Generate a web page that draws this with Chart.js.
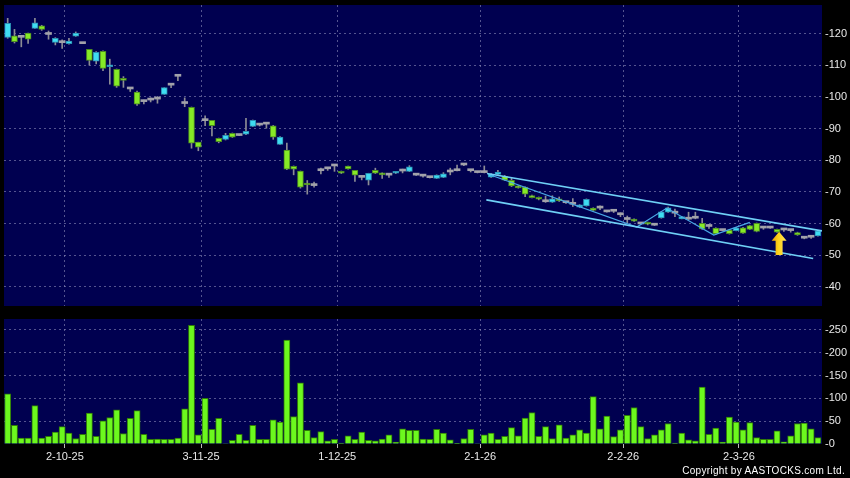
<!DOCTYPE html>
<html lang="en">
<head>
<meta charset="UTF-8">
<title>Price and volume</title>
<script src="https://cdn.jsdelivr.net/npm/chart.js"></script>
<style>
  body { margin: 0; background: #000; width: 850px; height: 478px; overflow: hidden; position: relative; }
  #priceChart { position: absolute; left: 0; top: 0; }
  #volChart { position: absolute; left: 0; top: 310px; }
  #copy { position: absolute; right: 5px; top: 465px; color: #fff; font: 10px 'Liberation Sans', Arial, sans-serif; letter-spacing: 0.3px; }
</style>
</head>
<body>
<canvas id="priceChart" width="850" height="310"></canvas>
<canvas id="volChart" width="850" height="168"></canvas>
<div id="copy">Copyright by AASTOCKS.com Ltd.</div>

<script>
// daily bars, oldest first (one entry per trading day)
const opens = [
  118.8, 119.3, 118.8, 120.1, 121.6, 122.4, 119.7, 117.2, 117.1, 116.8,
  119.2, 116.8, 115.0, 111.3, 114.4, 109.5, 108.7, 105.8, 102.5, 101.5,
  98.5, 99.0, 99.3, 100.8, 103.7, 106.5, 97.9, 96.7, 85.7, 92.5,
  92.6, 86.9, 86.6, 88.5, 87.8, 88.2, 90.7, 91.1, 91.4, 90.9,
  85.0, 83.2, 78.1, 76.6, 72.5, 72.0, 76.7, 77.3, 78.2, 76.5,
  78.2, 76.8, 74.6, 73.7, 76.8, 75.9, 75.3, 75.9, 76.6, 76.5,
  75.3, 75.0, 74.5, 74.3, 74.6, 76.3, 76.7, 78.5, 76.7, 76.1,
  76.1, 74.7, 75.5, 74.9, 73.7, 71.9, 71.5, 68.8, 68.3, 66.9,
  66.8, 67.7, 66.6, 66.1, 65.2, 65.6, 64.9, 64.9, 63.7, 63.9,
  62.8, 61.3, 61.4, 59.9, 60.4, 59.5, 61.8, 63.6, 63.3, 61.5,
  61.4, 61.7, 60.1, 59.1, 58.6, 57.8, 58.0, 57.8, 58.7, 59.4,
  60.1, 58.6, 58.6, 58.2, 58.0, 57.8, 57.2, 55.4, 55.7, 56.1
];
const highs = [
  124.8, 121.3, 118.9, 120.1, 124.8, 122.6, 120.8, 118.7, 118.0, 118.5,
  120.5, 116.8, 115.0, 114.3, 114.5, 111.9, 108.8, 106.4, 103.0, 101.8,
  99.0, 99.7, 100.1, 102.9, 104.3, 106.5, 99.7, 96.8, 85.7, 94.0,
  92.6, 87.0, 88.5, 88.6, 87.8, 93.2, 92.7, 91.6, 91.5, 91.0,
  87.5, 85.4, 78.2, 76.6, 73.6, 73.1, 77.5, 77.7, 78.2, 76.6,
  78.2, 76.8, 75.0, 75.9, 77.5, 76.0, 75.8, 76.5, 77.2, 78.3,
  75.4, 75.4, 74.6, 75.4, 76.1, 77.5, 78.5, 78.9, 77.0, 76.2,
  78.2, 75.8, 76.8, 75.2, 74.3, 72.0, 71.6, 69.0, 68.4, 68.7,
  68.8, 68.4, 66.8, 67.9, 66.0, 67.8, 65.0, 65.6, 63.8, 64.0,
  63.4, 62.4, 61.5, 60.0, 60.5, 59.6, 63.8, 65.2, 64.6, 62.3,
  63.6, 63.6, 61.7, 59.8, 58.7, 57.9, 58.1, 58.8, 58.8, 59.5,
  60.2, 59.0, 58.7, 58.3, 58.5, 58.2, 57.3, 55.6, 56.2, 57.9
];
const lows = [
  118.5, 117.0, 115.8, 116.9, 121.6, 121.0, 118.2, 116.4, 115.3, 116.6,
  119.1, 116.8, 110.0, 110.4, 108.3, 104.0, 103.0, 103.0, 101.7, 97.3,
  97.8, 98.4, 98.0, 100.8, 102.9, 105.1, 96.9, 83.8, 83.0, 90.9,
  87.7, 85.5, 86.4, 87.2, 87.8, 88.1, 90.6, 90.8, 90.1, 86.6,
  85.0, 77.0, 75.4, 71.2, 69.3, 71.5, 75.7, 76.8, 76.5, 75.8,
  77.2, 73.3, 73.8, 72.2, 75.8, 74.3, 74.6, 75.8, 76.0, 76.4,
  75.2, 74.7, 74.4, 74.2, 74.5, 75.4, 76.6, 78.3, 76.3, 76.0,
  76.0, 74.6, 75.4, 73.6, 71.7, 71.2, 68.5, 68.1, 67.5, 66.7,
  66.7, 67.0, 66.4, 65.4, 65.1, 65.5, 64.1, 64.4, 63.6, 63.5,
  62.2, 60.2, 60.7, 59.8, 59.6, 59.4, 61.7, 63.5, 62.2, 61.5,
  61.3, 61.5, 58.2, 58.5, 56.6, 57.7, 56.7, 57.7, 56.9, 58.1,
  57.4, 58.2, 58.5, 57.2, 57.5, 57.3, 56.3, 55.2, 55.3, 56.0
];
const closes = [
  123.2, 117.4, 118.8, 118.2, 123.4, 121.3, 119.7, 118.5, 117.1, 117.6,
  120.1, 116.8, 111.5, 114.1, 109.0, 109.9, 103.4, 105.2, 102.5, 97.7,
  98.5, 99.0, 99.3, 102.9, 103.7, 106.5, 97.9, 85.4, 84.1, 92.5,
  90.9, 85.9, 87.9, 87.3, 87.8, 89.1, 92.6, 91.1, 91.4, 87.3,
  87.3, 77.2, 77.2, 71.5, 72.2, 72.0, 76.7, 77.3, 78.2, 75.9,
  77.3, 75.3, 74.6, 75.9, 75.9, 75.4, 75.3, 76.5, 76.6, 77.9,
  75.3, 75.0, 74.5, 75.3, 75.7, 76.3, 76.7, 78.5, 76.7, 76.1,
  76.1, 75.6, 76.3, 73.7, 71.9, 71.3, 69.3, 68.2, 67.7, 66.9,
  67.8, 67.2, 66.6, 66.1, 65.9, 67.7, 64.2, 64.9, 63.7, 63.9,
  62.8, 61.3, 60.8, 59.9, 59.8, 59.5, 63.7, 65.0, 63.3, 62.2,
  61.4, 61.7, 58.3, 59.1, 56.8, 57.8, 56.8, 58.7, 57.0, 58.2,
  57.5, 58.6, 58.6, 57.3, 58.0, 57.8, 56.4, 55.4, 55.7, 57.7
];
const volumes = [
  110, 41, 13, 13, 84, 13, 17, 26, 38, 24,
  12, 21, 68, 17, 51, 58, 75, 23, 56, 73,
  21, 10, 11, 10, 10, 13, 77, 260, 20, 100,
  32, 56, 1, 8, 21, 8, 41, 10, 10, 53,
  48, 228, 60, 134, 30, 14, 27, 7, 10, 2,
  18, 10, 26, 8, 7, 11, 20, 4, 33, 30,
  30, 11, 10, 32, 24, 9, 0.5, 12, 32, 1,
  20, 24, 10, 17, 36, 18, 57, 69, 17, 38,
  12, 42, 13, 20, 31, 24, 104, 33, 61, 16,
  31, 63, 80, 38, 12, 20, 31, 45, 2, 24,
  9, 7, 125, 21, 35, 4, 59, 48, 31, 47,
  14, 10, 10, 29, 5, 18, 45, 46, 33, 14
];

// date labels and the bar each one sits on
const tickLabels = ['2-10-25', '3-11-25', '1-12-25', '2-1-26', '2-2-26', '2-3-26'];
const tickBars = [8, 28, 48, 69, 90, 107];
const priceTicks = [40, 50, 60, 70, 80, 90, 100, 110, 120];
const volumeTicks = [0, 50, 100, 150, 200, 250];

// drawn trend channel, zigzag and marker: [bar, price]
const upperLine = [[70.4, 75.8], [119.6, 57.7]];
const lowerLine = [[70.3, 67.5], [118.3, 49.0]];
const zigzag = [[70.6, 75.6], [92.4, 58.9], [96.8, 64.9], [103.7, 56.4], [109.0, 60.4]];
const arrowMark = [113.3, 57.4, 50.1]; // bar, tip price, tail price

const NAVY = '#000050';
const GRID = 'rgba(140,140,185,0.6)';
const CYAN = '#3fdcf2', CYAN_EDGE = '#2b8fb2';
const GREEN = '#86ea26', GREEN_EDGE = '#4b8a22';
const FLAT = '#a2a2aa', WICK = '#8c8c94';
const VOL = '#6cf81e', VOL_EDGE = '#2f7a08';
const FONT = { family: "'Liberation Sans', Arial, sans-serif", size: 11 };

const xMin = -0.54, xMax = 119.6;

function bodyColor(i) {
  if (closes[i] > opens[i]) return CYAN;
  if (closes[i] < opens[i]) return GREEN;
  return FLAT;
}
function edgeColor(i) {
  if (closes[i] > opens[i]) return CYAN_EDGE;
  if (closes[i] < opens[i]) return GREEN_EDGE;
  return FLAT;
}

const panelFill = {
  id: 'panelFill',
  beforeDraw(chart) {
    const { ctx, chartArea: a } = chart;
    ctx.save();
    ctx.fillStyle = NAVY;
    ctx.fillRect(a.left, a.top, a.width, a.height);
    ctx.restore();
  }
};

const arrowPlugin = {
  id: 'arrowPlugin',
  afterDatasetsDraw(chart) {
    const { ctx, scales } = chart;
    const x = scales.x.getPixelForValue(arrowMark[0]);
    const tip = scales.y.getPixelForValue(arrowMark[1]);
    const tail = scales.y.getPixelForValue(arrowMark[2]);
    const head = 9, hw = 7.5, sw = 3.5;
    const g = ctx.createLinearGradient(x - hw, 0, x + hw, 0);
    g.addColorStop(0, '#e89a00');
    g.addColorStop(0.45, '#ffd21a');
    g.addColorStop(1, '#ffe45a');
    ctx.save();
    ctx.beginPath();
    ctx.moveTo(x, tip);
    ctx.lineTo(x + hw, tip + head);
    ctx.lineTo(x + sw, tip + head);
    ctx.lineTo(x + sw, tail);
    ctx.lineTo(x - sw, tail);
    ctx.lineTo(x - sw, tip + head);
    ctx.lineTo(x - hw, tip + head);
    ctx.closePath();
    ctx.fillStyle = g;
    ctx.fill();
    ctx.restore();
  }
};

function dateAxis(showLabels) {
  return {
    type: 'linear',
    min: xMin,
    max: xMax,
    offset: false,
    afterBuildTicks: s => { s.ticks = tickBars.map(b => ({ value: b + 0.4 })); },
    afterFit: s => {
      s.height = showLabels ? 34 : 0;
      s.paddingLeft = 0; s.paddingRight = 0;
    },
    grid: {
      offset: false,
      color: GRID,
      drawTicks: showLabels,
      tickLength: 4,
      tickColor: '#bbbbbb'
    },
    border: { display: false, dash: [2, 3] },
    ticks: {
      display: showLabels,
      autoSkip: false,
      maxRotation: 0,
      padding: 2,
      color: '#e8e8e8',
      font: FONT,
      callback: (v, k) => tickLabels[k]
    }
  };
}

function valueAxis(min, max, list) {
  return {
    position: 'right',
    min: min,
    max: max,
    afterBuildTicks: s => { s.ticks = list.map(v => ({ value: v })); },
    afterFit: s => {
      s.width = 28;
      s.paddingTop = 0; s.paddingBottom = 0;
    },
    grid: {
      color: c => (c.tick && c.tick.value === 0) ? 'rgba(0,0,0,0)' : GRID,
      drawTicks: false
    },
    border: { display: false, dash: [2, 3] },
    ticks: {
      padding: 3,
      color: '#e8e8e8',
      font: FONT,
      callback: v => '-' + v
    }
  };
}

const lineStyle = (pts, color, width) => ({
  type: 'line',
  data: pts.map(p => ({ x: p[0], y: p[1] })),
  borderColor: color,
  borderWidth: width,
  pointRadius: 0,
  tension: 0,
  order: 0
});

new Chart(document.getElementById('priceChart'), {
  type: 'bar',
  data: {
    datasets: [
      lineStyle(upperLine, '#6fd0f6', 1.6),
      lineStyle(lowerLine, '#6fd0f6', 1.6),
      lineStyle(zigzag, '#49a8e6', 1.2),
      {
        data: opens.map((o, i) => ({ x: i, y: [o, closes[i]] })),
        backgroundColor: c => bodyColor(c.dataIndex),
        borderColor: c => edgeColor(c.dataIndex),
        borderWidth: c => opens[c.dataIndex] === closes[c.dataIndex] ? 0 : 1,
        borderSkipped: false,
        barThickness: 6,
        minBarLength: 2,
        grouped: false,
        order: 1
      },
      {
        data: highs.map((h, i) => ({ x: i, y: [lows[i], h] })),
        backgroundColor: WICK,
        barThickness: 1,
        minBarLength: 1,
        grouped: false,
        order: 2
      }
    ]
  },
  options: {
    responsive: false,
    animation: false,
    events: [],
    layout: { padding: { left: 4, top: 5, right: 0, bottom: 4 } },
    plugins: { legend: { display: false }, tooltip: { enabled: false } },
    scales: {
      x: dateAxis(false),
      y: valueAxis(34, 129, priceTicks)
    }
  },
  plugins: [panelFill, arrowPlugin]
});

new Chart(document.getElementById('volChart'), {
  type: 'bar',
  data: {
    datasets: [{
      data: volumes.map((v, i) => ({ x: i, y: v })),
      backgroundColor: VOL,
      borderColor: VOL_EDGE,
      borderWidth: 1,
      borderSkipped: 'start',
      barThickness: 6.2,
      grouped: false
    }]
  },
  options: {
    responsive: false,
    animation: false,
    events: [],
    layout: { padding: { left: 4, top: 9, right: 0, bottom: 0 } },
    plugins: { legend: { display: false }, tooltip: { enabled: false } },
    scales: {
      x: dateAxis(true),
      y: valueAxis(0, 274, volumeTicks)
    }
  },
  plugins: [panelFill]
});
</script>
</body>
</html>
